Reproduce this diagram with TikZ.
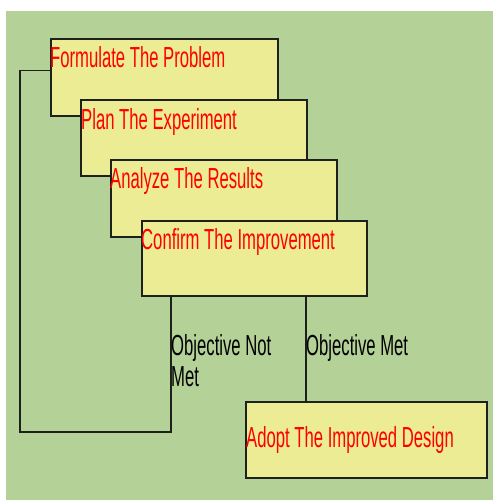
\documentclass[tikz,border=0pt]{standalone}
\usepackage{fontspec}
\newfontfamily\narrowsans[FakeStretch=0.575]{Liberation Sans}
\definecolor{pagegreen}{RGB}{180,209,152}
\definecolor{boxfill}{RGB}{236,236,148}
\definecolor{edge}{RGB}{30,32,28}
\begin{document}
\begin{tikzpicture}[x=1pt,y=-1pt,
  stepbox/.style={draw=edge,line width=1.7pt,fill=boxfill,rectangle,inner sep=0pt},
  steptext/.style={anchor=base west,inner sep=0pt,text=red,font=\narrowsans\fontsize{29}{31}\selectfont},
  pathtext/.style={anchor=base west,inner sep=0pt,text=black,align=left,font=\narrowsans\fontsize{29}{31}\selectfont},
  wire/.style={draw=edge,line width=1.2pt}]
  \useasboundingbox (0,0) rectangle (493,500);
  \fill[white] (0,0) rectangle (493,500);
  \fill[pagegreen] (6,11) rectangle (493,500);

  % cascading process steps
  \node[stepbox,anchor=north west,minimum width=227pt,minimum height=77pt] (b1) at (50,38) {};
  \node[steptext] (t1) at ([yshift=-30pt]b1.north west) {Formulate The Problem};
  \node[stepbox,anchor=north west,minimum width=226pt,minimum height=76pt] (b2) at (80,99) {};
  \node[steptext] (t2) at ([shift={(1pt,-30pt)}]b2.north west) {Plan The Experiment};
  \node[stepbox,anchor=north west,minimum width=226pt,minimum height=77pt] (b3) at (110,159) {};
  \node[steptext] (t3) at ([yshift=-29pt]b3.north west) {Analyze The Results};
  \node[stepbox,anchor=north west,minimum width=225pt,minimum height=75pt] (b4) at (141,220) {};
  \node[steptext] (t4) at ([yshift=-29pt]b4.north west) {Confirm The Improvement};
  \node[stepbox,anchor=north west,minimum width=241pt,minimum height=76pt] (b5) at (245,401) {};
  \node[steptext] (t5) at ([shift={(1pt,-46pt)}]b5.north west) {Adopt The Improved Design};

  % feedback loop and exit
  \coordinate (loop) at (20,432);
  \draw[wire] ([xshift=30pt]b4.south west) |- (loop) |- ([yshift=6.5pt]b1.west);
  \draw[wire] ([xshift=165pt]b4.south west) -- ([xshift=61pt]b5.north west);

  % branch labels (base of a two-line node sits on its last line)
  \node[pathtext] (l1) at (171,386) {Objective Not\\Met};
  \node[pathtext] (l2) at (306,355) {Objective Met};
\end{tikzpicture}
\end{document}
